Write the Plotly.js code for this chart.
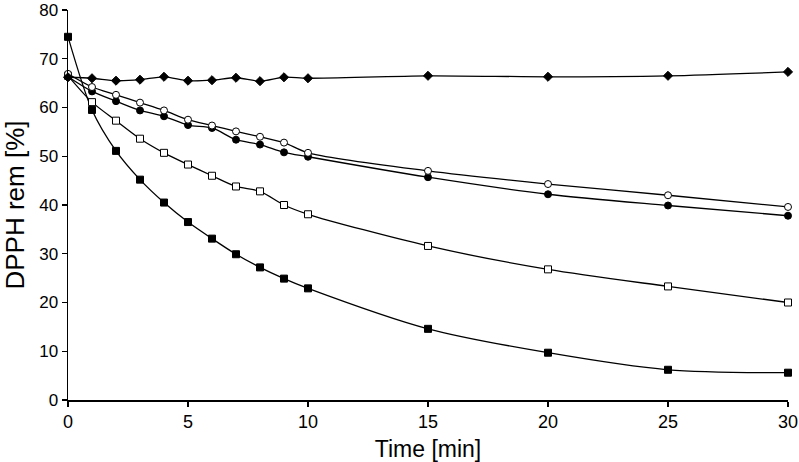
<!DOCTYPE html>
<html>
<head>
<meta charset="utf-8">
<script src="https://cdn.plot.ly/plotly-3.0.1.min.js"></script>
<style>html,body{margin:0;padding:0;background:#fff;}#chart{width:799px;height:462px;}</style>
</head>
<body>
<div id="chart"></div>
<script>
var time = [0, 1, 2, 3, 4, 5, 6, 7, 8, 9, 10, 15, 20, 25, 30];
var control = [66.2, 66.0, 65.5, 65.7, 66.3, 65.5, 65.6, 66.1, 65.4, 66.2, 66.0, 66.5, 66.3, 66.5, 67.3];
var openCircle = [66.9, 64.2, 62.6, 61.0, 59.4, 57.5, 56.3, 55.1, 54.0, 52.8, 50.7, 47.0, 44.3, 42.0, 39.6];
var filledCircle = [66.3, 63.3, 61.3, 59.4, 58.2, 56.4, 55.8, 53.4, 52.4, 50.8, 49.9, 45.7, 42.2, 39.9, 37.8];
var openSquare = [66.5, 61.1, 57.3, 53.6, 50.7, 48.3, 46.0, 43.8, 42.8, 40.0, 38.1, 31.6, 26.8, 23.3, 20.0];
var filledSquare = [74.5, 59.5, 51.1, 45.2, 40.5, 36.5, 33.1, 29.9, 27.2, 24.9, 22.9, 14.6, 9.7, 6.2, 5.6];

function tr(y, symbol, fill, size) {
  return {
    x: time, y: y, type: 'scatter', mode: 'lines+markers', cliponaxis: false,
    line: {color: '#000', width: 1.3, shape: 'spline', smoothing: 0.8},
    marker: {symbol: symbol, size: size, color: fill, line: {color: '#000', width: 1}}
  };
}
var data = [
  tr(filledSquare, 'square', '#000', 7),
  tr(openSquare, 'square', '#fff', 7),
  tr(filledCircle, 'circle', '#000', 7),
  tr(openCircle, 'circle', '#fff', 7),
  tr(control, 'diamond', '#000', 7)
];
var fam = 'Liberation Sans, Arial, sans-serif';
var layout = {
  width: 799, height: 462,
  margin: {l: 68, r: 11, t: 10, b: 62},
  paper_bgcolor: '#fff', plot_bgcolor: '#fff',
  showlegend: false,
  font: {family: fam, color: '#000'},
  xaxis: {
    range: [0, 30], tickvals: [0, 5, 10, 15, 20, 25, 30],
    ticks: 'outside', ticklen: 5, tickwidth: 1.2, tickcolor: '#000',
    showline: true, linecolor: '#000', linewidth: 1.5,
    showgrid: false, zeroline: false, ticklabeloverflow: 'allow',
    tickfont: {family: fam, size: 18, color: '#000'},
    title: {text: 'Time [min]', font: {family: fam, size: 23, color: '#000'}, standoff: 10}
  },
  yaxis: {
    range: [0, 80], tickvals: [0, 10, 20, 30, 40, 50, 60, 70, 80],
    ticks: 'outside', ticklen: 5, tickwidth: 1.2, tickcolor: '#000',
    showline: true, linecolor: '#000', linewidth: 1.5,
    showgrid: false, zeroline: false, ticklabeloverflow: 'allow',
    tickfont: {family: fam, size: 17, color: '#000'},
    title: {text: 'DPPH rem [%]', font: {family: fam, size: 26, color: '#000'}, standoff: 10}
  }
};
Plotly.newPlot('chart', data, layout, {displayModeBar: false, staticPlot: true});
</script>
</body>
</html>
